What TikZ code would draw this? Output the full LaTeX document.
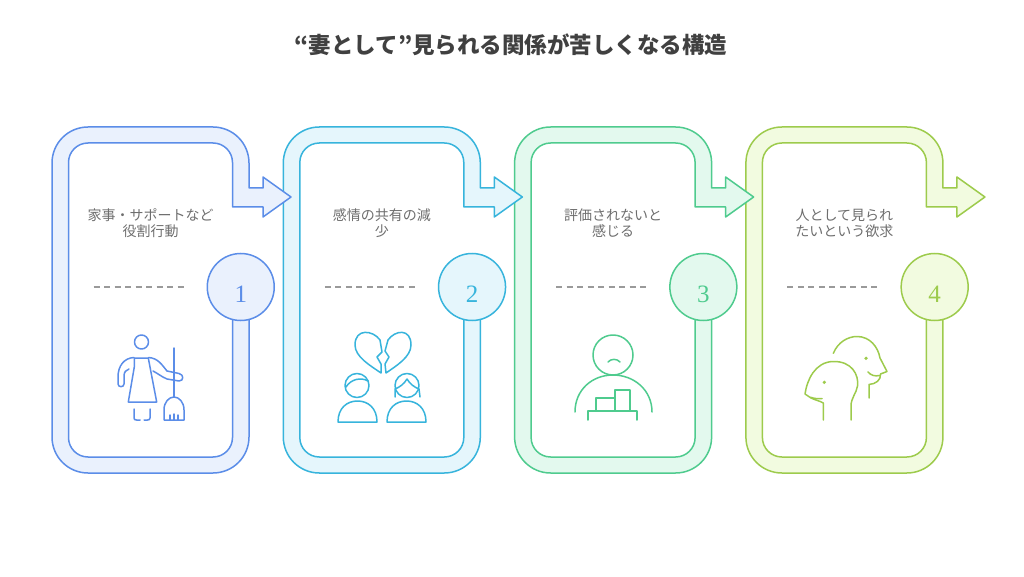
\documentclass[tikz,border=0pt]{standalone}
\usepackage{fontspec}
\newfontfamily\jp{Noto Sans CJK JP}
\newfontfamily\numserif{Liberation Serif}
\definecolor{s1}{HTML}{5B8DE8}
\definecolor{f1}{HTML}{EAF1FD}
\definecolor{s2}{HTML}{37B4DC}
\definecolor{f2}{HTML}{E5F6FC}
\definecolor{s3}{HTML}{4FCB8E}
\definecolor{f3}{HTML}{E3F9EE}
\definecolor{s4}{HTML}{9DCB4C}
\definecolor{f4}{HTML}{F2FBE0}
\definecolor{lblgray}{HTML}{6E6E6E}
\definecolor{sepgray}{HTML}{9A9A9A}
\definecolor{titlegray}{HTML}{404040}
\tikzset{
  lbl/.style={align=center, text=lblgray, font=\jp\fontsize{14}{16}\selectfont, inner sep=0pt},
  sepline/.style={draw=sepgray, line width=1.3pt, dash pattern=on 6pt off 4.5pt},
  ico/.style={line width=1.5pt, line cap=round, line join=round},
  band/.style={line width=1.5pt, line join=round},
  numcirc/.style={circle, line width=1.5pt, minimum size=67pt, inner sep=0pt},
  numtext/.style={font=\numserif\fontsize{25}{27}\selectfont, inner sep=0pt},
}
\newcommand\mypanel[4]{%
\begin{scope}[xshift=#1]
\path[band, draw=#2, fill=#3]
 (249,290) -- (249,139) arc[start angle=0,end angle=-90,radius=36pt]
 -- (88,103) arc[start angle=270,end angle=180,radius=36pt]
 -- (52,413) arc[start angle=180,end angle=90,radius=36pt]
 -- (213,449) arc[start angle=90,end angle=0,radius=36pt]
 -- (249,388) -- (263,388) -- (263,399) -- (291,379) -- (263,359) -- (263,369) -- (232.5,369)
 -- (232.5,413.5) arc[start angle=0,end angle=90,radius=19.5pt]
 -- (88,433) arc[start angle=90,end angle=180,radius=19.5pt]
 -- (68.5,138.5) arc[start angle=180,end angle=270,radius=19.5pt]
 -- (213,119) arc[start angle=270,end angle=360,radius=19.5pt]
 -- (232.5,290) -- cycle;
\node[numcirc, draw=#2, fill=#3] (c#4) at (240.75,289) {};
\node[numtext, text=#2] (n#4) at (240.75,282) {#4};
\draw[sepline] (93.5,289) -- (185.5,289);
\end{scope}}
\begin{document}
\begin{tikzpicture}[x=1pt,y=1pt]
\useasboundingbox (0,0) rectangle (1024,576);
\fill[white] (0,0) rectangle (1024,576);
\node[font=\jp\bfseries\fontsize{22.5}{26}\selectfont, text=titlegray] (title) at (511,531) {“妻として”見られる関係が苦しくなる構造};
\mypanel{693.9pt}{s4}{f4}{4}
\mypanel{462.6pt}{s3}{f3}{3}
\mypanel{231.3pt}{s2}{f2}{2}
\mypanel{0pt}{s1}{f1}{1}
\node[lbl] (t1) at (150.5,353) {家事・サポートなど\\役割行動};
\node[lbl] (t2) at (381.8,353) {感情の共有の減\\少};
\node[lbl] (t3) at (613.1,353) {評価されないと\\感じる};
\node[lbl] (t4) at (844.4,353) {人として見られ\\たいという欲求};
\begin{scope}[shift={(0,576)}, yscale=-1]
 % icon 1: housekeeper
 \begin{scope}[ico, draw=s1]
  \draw (141.5,342) circle[radius=7];
  \draw (134.3,358) -- (148.3,358) -- (150,367) -- (156.7,402) -- (128.3,402) -- (134.3,367) -- cycle;
  \draw (134,357.5) .. controls (124,358) and (118,366) .. (118,377) -- (118,384) .. controls (118,387.5) and (124,387.5) .. (124,384) -- (124,376) .. controls (124,372) and (126,370) .. (129,369);
  \draw (148.5,357.5) .. controls (158,358) and (162,365) .. (167,371) -- (179,373.5) .. controls (184,374.5) and (184,381) .. (179,381) -- (167,379) .. controls (162,377) and (157,373) .. (153,371);
  \draw (134,409) -- (134,418) .. controls (134,419.5) and (135,420) .. (136.5,420) -- (140,420);
  \draw (150,409) -- (150,418) .. controls (150,419.5) and (149,420) .. (147.5,420) -- (144,420);
  \draw (174,348) -- (174,397);
  \draw (164,420) -- (164,410) .. controls (164,402) and (169,397) .. (174,397) .. controls (179,397) and (184,402) .. (184,410) -- (184,420) -- cycle;
  \draw (170,420) -- (170,415) (174,420) -- (174,414) (178,420) -- (178,415);
 \end{scope}
 % icon 2: broken heart and couple
 \begin{scope}[ico, draw=s2]
  \draw (380,340) .. controls (373,330) and (355,328) .. (355,345) .. controls (355,357) and (371,366) .. (381,373) -- (381,364) -- (377,357) -- (382,352) -- cycle;
  \draw (388,340) .. controls (395,330) and (411,328) .. (411,345) .. controls (411,357) and (396,366) .. (386,373) -- (385,364) -- (389,357) -- (385,351) -- cycle;
  \draw (357,385.5) circle[radius=12];
  \draw (346,387) .. controls (351,379) and (361,377) .. (368,381);
  \draw (338,422) .. controls (338,408) and (347,401) .. (357.5,401) .. controls (368,401) and (377,408) .. (377,422) -- cycle;
  \draw (407,385.5) circle[radius=12];
  \draw (395,397) -- (395,389) .. controls (400,387) and (404,384) .. (407,379) .. controls (410,384) and (414,387) .. (419,389) -- (420,397);
  \draw (387,422) .. controls (387,408) and (396,401) .. (406.5,401) .. controls (417,401) and (426,408) .. (426,422) -- cycle;
 \end{scope}
 % icon 3: sad person with bar chart
 \begin{scope}[ico, draw=s3]
  \draw (613,355) circle[radius=20];
  \draw (608,362) .. controls (611,358.5) and (617,358.5) .. (620,362);
  \draw (575,412) .. controls (575,390) and (592,375) .. (613,375) .. controls (634,375) and (652,390) .. (652,412);
  \draw (588,420) -- (588,411) -- (637,411) -- (637,420);
  \draw (596,411) rectangle (615,398);
  \draw (615,411) rectangle (630,390);
 \end{scope}
 % icon 4: two profiles
 \begin{scope}[ico, draw=s4]
  \draw (823.3,420) -- (823.3,403) .. controls (820,401) and (815,400) .. (811,398) -- (805,394) .. controls (807,380) and (815,362) .. (833,361.5) .. controls (852,361) and (859,375) .. (857.5,386) .. controls (856.5,393) and (851,398) .. (851,406) -- (851,420);
  \draw (810.7,397.3) .. controls (814,398.5) and (818,399) .. (822,398.5);
  \draw (833.3,353.3) .. controls (838,342) and (848,336.5) .. (857,336.5) .. controls (870,336.5) and (878,347) .. (880,358) -- (887,371.5) -- (880.5,374) .. controls (881,380) and (876,384) .. (869,384.5) -- (869,398);
  \draw (868,372) .. controls (871,375.5) and (875,376.5) .. (879.5,375.5);
  \fill[s4] (824.3,382.3) circle[radius=1.8];
  \fill[s4] (866,358.3) circle[radius=1.8];
 \end{scope}
\end{scope}
\end{tikzpicture}
\end{document}
